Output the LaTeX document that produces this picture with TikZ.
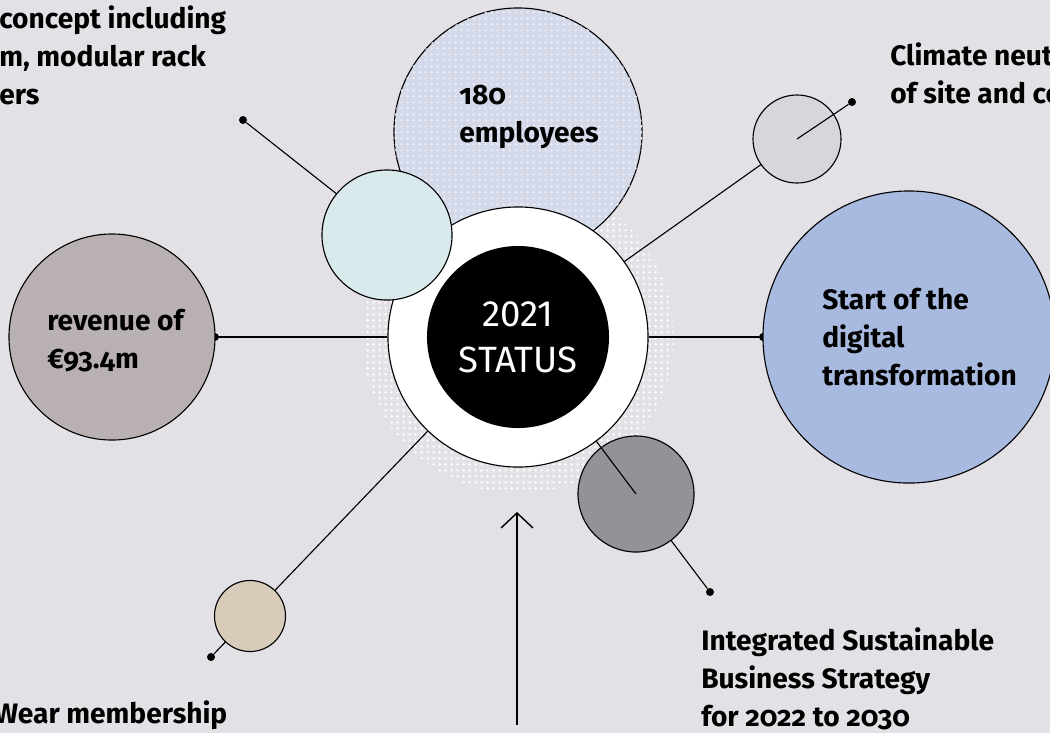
\documentclass[tikz,border=0pt]{standalone}
\usepackage{fontspec}
\setmainfont{Fira Sans}[Numbers=OldStyle]
\newfontfamily\hubfont{Fira Sans}[Numbers=Lining]
\usepackage{tikz}
\usetikzlibrary{arrows.meta, patterns.meta}
\definecolor{backcolor}{RGB}{227,225,230}
\definecolor{staffcolor}{RGB}{212,217,234}
\definecolor{conceptcolor}{RGB}{216,234,236}
\definecolor{revenuecolor}{RGB}{185,177,177}
\definecolor{digitalcolor}{RGB}{168,186,224}
\definecolor{climatecolor}{RGB}{215,214,220}
\definecolor{strategycolor}{RGB}{147,146,151}
\definecolor{membercolor}{RGB}{216,203,185}
\tikzdeclarepattern{
    name=halodots, type=uncolored,
    bounding box={(0pt,0pt) and (4pt,4pt)},
    tile size={(4pt,4pt)},
    code={\fill (2pt,2pt) circle (1.05pt);}
}

\begin{document}
\begin{tikzpicture}[
    x=0.025cm, y=-0.025cm,
    bubble/.style={draw, line width=0.8pt, circle, inner sep=0pt},
    dot/.style={circle, fill=black, inner sep=0pt, minimum size=0.2cm},
    link/.style={line width=0.8pt},
    blurb/.style={font=\fontsize{20}{27}\selectfont\bfseries, align=left, anchor=base west, inner sep=0pt}
]
    % Canvas
    \fill[backcolor] (0,0) rectangle (1050,733);
    \useasboundingbox (0,0) rectangle (1050,733);
    \clip (0,0) rectangle (1050,733);

    % End points of the spokes
    \node[dot] (conceptdot) at (243,120) {};
    \node[dot] (revenuedot) at (215,337) {};
    \node[dot] (digitaldot) at (763,337) {};
    \node[dot] (climatedot) at (852,102) {};
    \node[dot] (strategydot) at (710,592) {};
    \node[dot] (memberdot) at (211,657) {};

    % Halo and bubbles
    \node[circle, minimum size=7.8cm, pattern=halodots, pattern color=white] (halo) at (518,337) {};
    \node[bubble, minimum size=6.2cm, fill=staffcolor, postaction={pattern=halodots, pattern color=white!55!staffcolor}] (staff) at (518,132) {};
    \node[bubble, minimum size=6.5cm, fill=white] (ring) at (518,337) {};
    \node[circle, minimum size=4.55cm, fill=black, text=white, align=center, font=\hubfont\fontsize{26}{33}\selectfont] (hub) at (518,337) {2021\\STATUS};

    % Spokes
    \draw[link] (ring) -- (conceptdot);
    \draw[link] (ring) -- (revenuedot);
    \draw[link] (ring) -- (digitaldot);
    \draw[link] (ring) -- (memberdot);

    \node[bubble, minimum size=3.25cm, fill=conceptcolor] (concept) at (387,235) {};
    \node[bubble, minimum size=5.15cm, fill=revenuecolor] (revenue) at (112,337) {};
    \node[bubble, minimum size=7.3cm, fill=digitalcolor] (digital) at (909,337) {};
    \draw[link] (ring) -- (797,139);
    \node[bubble, minimum size=2.2cm, fill=climatecolor] (climate) at (797,139) {};
    \draw[link] (climate.center) -- (climatedot);
    \draw[link] (636,494) -- (strategydot);
    \node[bubble, minimum size=2.9cm, fill=strategycolor] (strategy) at (636,494) {};
    \draw[link] (ring) -- (strategy.center);
    \node[bubble, minimum size=1.775cm, fill=membercolor] (member) at (250,616) {};

    % Arrow
    \coordinate (arrowtail) at (517,725);
    \coordinate (arrowhead) at (517,512);
    \draw[line width=1pt, -{Straight Barb[length=0.375cm, width=0.8cm, line width=1pt]}] (arrowtail) -- (arrowhead);

    % Labels (placed at the baseline of their last line)
    \node[blurb] (stafftext) at (459,142) {180\\employees};
    \node[blurb] (revenuetext) at (47,368) {revenue of\\€93.4m};
    \node[blurb] (digitaltext) at (822,385) {Start of the\\digital\\transformation};
    \node[blurb] (strategytext) at (701,726) {Integrated Sustainable\\Business Strategy\\for 2022 to 2030};
    \node[blurb] (concepttext) at (-1,104) {concept including\\m, modular rack\\ers};
    \node[blurb] (climatetext) at (890,103) {Climate neut\\of site and co};
    \node[blurb] (membertext) at (-6,723) {Wear membership};
\end{tikzpicture}
\end{document}
